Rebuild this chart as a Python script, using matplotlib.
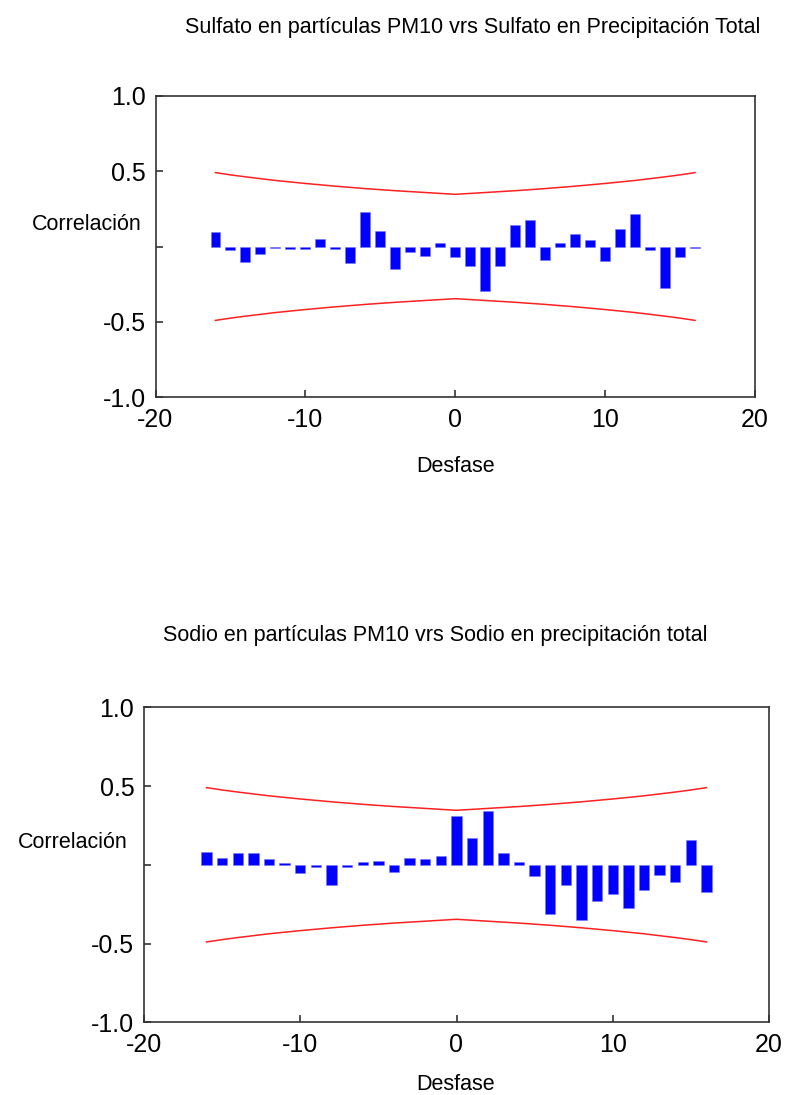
import matplotlib
matplotlib.use('Agg')
import matplotlib.pyplot as plt
import numpy as np

plt.rcParams['font.family'] = ['Liberation Sans', 'DejaVu Sans']

lags = list(range(-16, 17))

# Sulfato: cross-correlation per lag (-16..16)
sulfato = [0.095, -0.024, -0.106, -0.053, -0.01, -0.018, -0.018, 0.049, -0.018,
           -0.108, 0.232, 0.104, -0.146, -0.035, -0.062, 0.022, -0.07,
           -0.128, -0.294, -0.128, 0.142, 0.177, -0.09, 0.022, 0.086,
           0.04, -0.099, 0.115, 0.215, -0.024, -0.276, -0.07, -0.01]

# Sodio: cross-correlation per lag (-16..16)
sodio = [0.083, 0.044, 0.076, 0.076, 0.038, 0.011, -0.055, -0.015, -0.129,
         -0.015, 0.019, 0.027, -0.045, 0.046, 0.038, 0.057, 0.307,
         0.167, 0.343, 0.076, 0.015, -0.072, -0.311, -0.127, -0.349,
         -0.229, -0.184, -0.277, -0.157, -0.064, -0.108, 0.159, -0.174]

# upper probability limit per |lag| (0..16)
limit_half = [0.346, 0.352, 0.358, 0.364, 0.370, 0.377, 0.384, 0.392, 0.400,
              0.409, 0.418, 0.428, 0.438, 0.450, 0.462, 0.475, 0.490]
upper = limit_half[:0:-1] + limit_half
lower = [-v for v in upper]

ytick_vals = [-1.0, -0.5, 0.0, 0.5, 1.0]
ytick_labels = ['-1.0', '-0.5', '', '0.5', '1.0']
xtick_vals = [-20, -10, 0, 10, 20]

W, H = 788, 1095
fig = plt.figure(figsize=(W / 100, H / 100), dpi=100)


def make_panel(rect, values, title, title_xy, ylab_xy, xlab_xy):
    ax = fig.add_axes(rect)
    ax.bar(lags, values, width=0.66, color='#0000ff', edgecolor='#7777ff', linewidth=0.4)
    ax.plot(lags, upper, color='#ff2020', lw=1.1)
    ax.plot(lags, lower, color='#ff2020', lw=1.1)
    ax.set_xlim(-20, 20)
    ax.set_ylim(-1.0, 1.0)
    ax.set_yticks(ytick_vals)
    ax.set_yticklabels(ytick_labels)
    ax.set_xticks(xtick_vals)
    ax.set_xticklabels([str(v) for v in xtick_vals])
    ax.tick_params(direction='in', length=5, width=1.2, colors='#333333',
                   labelcolor='black', labelsize=18)
    ax.tick_params(axis='y', pad=7)
    ax.tick_params(axis='x', pad=8)
    for s in ax.spines.values():
        s.set_color('#333333')
        s.set_linewidth(1.2)
    fig.text(title_xy[0] / W, 1 - title_xy[1] / H, title, ha='center', va='center', fontsize=15.5)
    fig.text(ylab_xy[0] / W, 1 - ylab_xy[1] / H, 'Correlación', ha='right', va='center', fontsize=15.5)
    fig.text(xlab_xy[0] / W, 1 - xlab_xy[1] / H, 'Desfase', ha='center', va='center', fontsize=15.5)
    return ax


make_panel([155.5 / W, 1 - 397.3 / H, (755 - 155.5) / W, (397.3 - 95.7) / H],
           sulfato, 'Sulfato en partículas PM10 vrs Sulfato en Precipitación Total',
           (473, 28), (142, 224), (456, 466))

make_panel([144 / W, 1 - 1022.3 / H, (769 - 144) / W, (1022.3 - 707.3) / H],
           sodio, 'Sodio en partículas PM10 vrs Sodio en precipitación total',
           (435, 636), (128, 842), (456, 1085))

fig.savefig('out.png', dpi=100)
